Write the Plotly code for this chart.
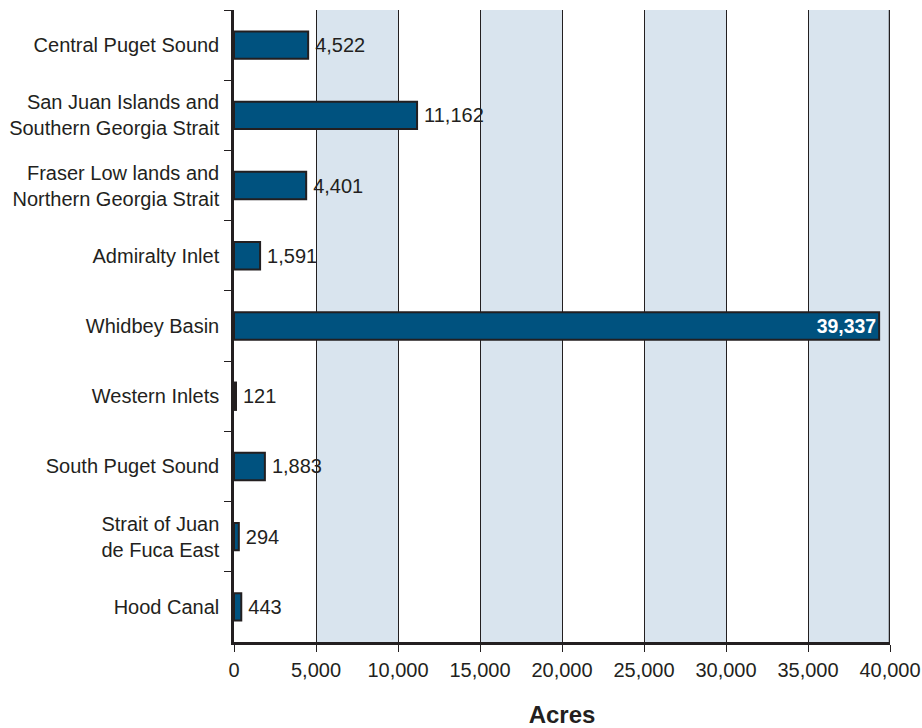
import plotly.graph_objects as go

# acres by sub-basin, top to bottom as in the chart
regions = ["Central Puget Sound", "San Juan Islands and<br>Southern Georgia Strait",
           "Fraser Low lands and<br>Northern Georgia Strait", "Admiralty Inlet",
           "Whidbey Basin", "Western Inlets", "South Puget Sound",
           "Strait of Juan<br>de Fuca East", "Hood Canal"]
acres = [4522, 11162, 4401, 1591, 39337, 121, 1883, 294, 443]
xticks = [0, 5000, 10000, 15000, 20000, 25000, 30000, 35000, 40000]

font = "Liberation Sans Narrow, Arial Narrow, Liberation Sans, sans-serif"
txt = "#231f20"

labels = [f"\u2009{v:,}" for v in acres]
pos = ["outside"] * len(acres)
i = acres.index(max(acres))
labels[i] = f"<b>{acres[i]:,}</b>"
pos[i] = "inside"

fig = go.Figure(go.Bar(
    y=regions, x=acres, orientation="h",
    marker=dict(color="#00527f", line=dict(color="#231f20", width=2)),
    width=0.39,
    text=labels, textposition=pos, insidetextanchor="end",
    textfont=dict(family=font, size=20, color=txt),
    insidetextfont=dict(family=font, size=20, color="white"),
    outsidetextfont=dict(family=font, size=20, color=txt),
    cliponaxis=False,
))

# alternating light blue bands
shapes = []
for k in range(5000, 40000, 10000):
    shapes.append(dict(type="rect", xref="x", yref="paper", x0=k, x1=k + 5000, y0=0, y1=1,
                       fillcolor="#d9e4ee", line=dict(width=0), layer="below"))
shapes.append(dict(type="line", xref="x", yref="paper", x0=40000, x1=40000, y0=0, y1=1,
                   line=dict(color="#231f20", width=2.5)))

fig.update_layout(
    width=922, height=728,
    margin=dict(l=234, r=32, t=10, b=86),
    plot_bgcolor="white", paper_bgcolor="white",
    showlegend=False, shapes=shapes,
    font=dict(family=font, size=20, color=txt),
)
fig.update_xaxes(
    range=[0, 40000], tickvals=xticks, tickformat=",",
    showgrid=True, gridcolor="#231f20", gridwidth=1,
    showline=True, linecolor="#231f20", linewidth=2.5,
    ticks="outside", ticklen=7, tickcolor="#231f20", tickwidth=1,
    zeroline=False, ticklabelstandoff=1, automargin=False,
    tickfont=dict(family=font, size=20, color=txt),
    title=dict(text="<b>Acres</b>", font=dict(family="Liberation Sans, Arial, sans-serif", size=24, color=txt), standoff=35),
)
fig.update_yaxes(
    autorange="reversed", tickson="boundaries",
    showline=True, linecolor="#231f20", linewidth=2.5,
    ticks="outside", ticklen=7, tickcolor="#231f20", tickwidth=1,
    showgrid=False, ticklabelstandoff=8, automargin=False,
    tickfont=dict(family=font, size=20, color=txt),
)

# drop the default body margin so the figure fills the window exactly
fig.write_html("out.html", config={"displayModeBar": False},
               post_script="document.body.style.margin='0';document.body.style.overflow='hidden';")
